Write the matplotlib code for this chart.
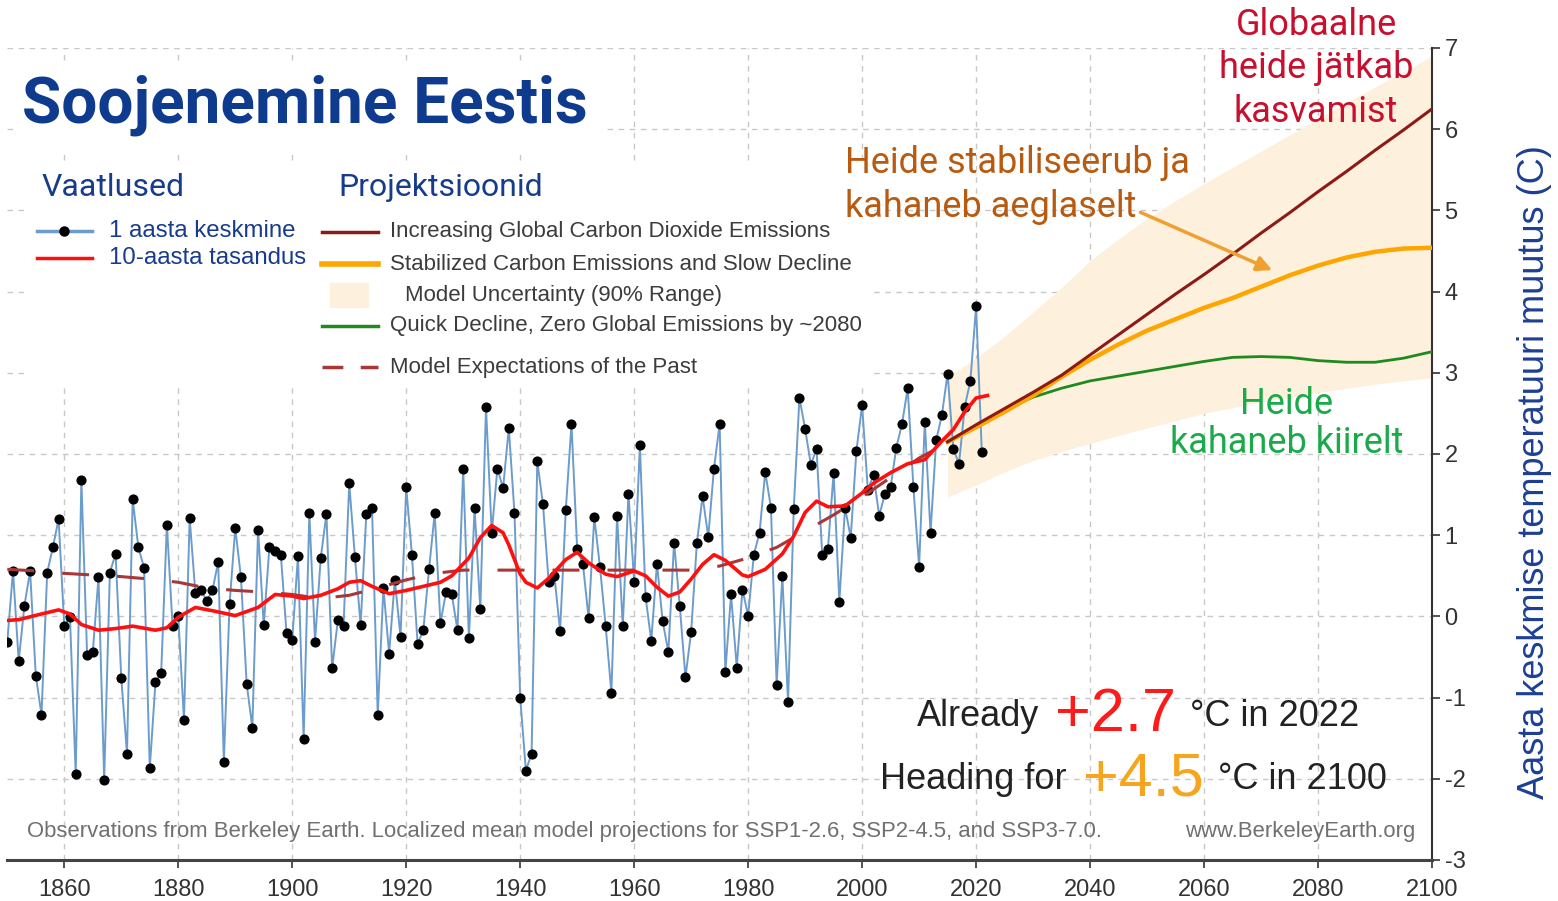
import matplotlib
matplotlib.use("Agg")
import matplotlib.pyplot as plt
from matplotlib.lines import Line2D
from matplotlib.patches import Rectangle

W, H = 1558, 901

# annual mean temperature change, Estonia (C), 1850-2021
obs_years = list(range(1850, 2022))
obs_temp = [
    -0.31, 0.56, -0.55, 0.13, 0.56, -0.73, -1.21, 0.54, 0.85, 1.20,
    -0.12, -0.01, -1.94, 1.68, -0.47, -0.44, 0.48, -2.01, 0.54, 0.77,
    -0.76, -1.69, 1.44, 0.85, 0.60, -1.87, -0.81, -0.70, 1.13, -0.12,
    0.00, -1.28, 1.21, 0.29, 0.32, 0.19, 0.32, 0.67, -1.79, 0.15,
    1.09, 0.48, -0.83, -1.37, 1.07, -0.11, 0.86, 0.81, 0.76, -0.21,
    -0.29, 0.74, -1.51, 1.27, -0.31, 0.72, 1.26, -0.64, -0.05, -0.12,
    1.64, 0.73, -0.11, 1.26, 1.34, -1.21, 0.35, -0.46, 0.45, -0.25,
    1.59, 0.76, -0.34, -0.17, 0.58, 1.27, -0.08, 0.30, 0.27, -0.17,
    1.82, -0.27, 1.33, 0.09, 2.58, 1.03, 1.82, 1.58, 2.32, 1.27,
    -1.00, -1.90, -1.69, 1.91, 1.38, 0.42, 0.50, -0.18, 1.31, 2.37,
    0.83, 0.65, -0.02, 1.22, 0.61, -0.12, -0.94, 1.24, -0.12, 1.51,
    0.42, 2.11, 0.24, -0.30, 0.65, -0.06, -0.44, 0.91, 0.13, -0.75,
    -0.19, 0.90, 1.48, 0.98, 1.82, 2.37, -0.68, 0.27, -0.63, 0.33,
    0.01, 0.76, 1.03, 1.78, 1.34, -0.84, 0.50, -1.06, 1.32, 2.69,
    2.31, 1.87, 2.06, 0.76, 0.83, 1.77, 0.18, 1.34, 0.97, 2.04,
    2.60, 1.56, 1.74, 1.24, 1.51, 1.59, 2.08, 2.37, 2.81, 1.59,
    0.61, 2.40, 1.03, 2.17, 2.48, 2.99, 2.06, 1.88, 2.58, 2.90,
    3.82, 2.02,
]

# 10-year smoothing
smooth_years = [1850, 1852, 1856, 1859, 1861, 1863, 1866, 1869, 1872, 1876,
                1878, 1880, 1883, 1886, 1890, 1894, 1897, 1900, 1902, 1905,
                1908, 1910, 1912, 1914, 1917, 1920, 1923, 1926, 1928, 1931,
                1933, 1935, 1937, 1938, 1940, 1941, 1943, 1945, 1948, 1950,
                1952, 1955, 1957, 1960, 1962, 1964, 1966, 1968, 1970, 1972,
                1974, 1976, 1979, 1980, 1983, 1986, 1988, 1990, 1992, 1994,
                1997, 2000, 2002, 2005, 2008, 2011, 2014, 2016, 2018, 2020,
                2022]
smooth_temp = [-0.05, -0.04, 0.03, 0.08, 0.03, -0.10, -0.17, -0.15, -0.12, -0.17,
               -0.14, -0.01, 0.11, 0.07, 0.01, 0.11, 0.27, 0.25, 0.22, 0.26,
               0.34, 0.42, 0.44, 0.37, 0.28, 0.32, 0.37, 0.42, 0.50, 0.72,
               0.97, 1.12, 1.03, 0.88, 0.52, 0.42, 0.35, 0.47, 0.70, 0.79,
               0.66, 0.52, 0.49, 0.56, 0.50, 0.36, 0.25, 0.30, 0.46, 0.64,
               0.76, 0.69, 0.51, 0.49, 0.58, 0.77, 0.99, 1.28, 1.42, 1.35,
               1.36, 1.52, 1.64, 1.77, 1.88, 1.93, 2.16, 2.30, 2.52, 2.69,
               2.72]

# model expectations of the past
past_years = [1850, 1855, 1860, 1865, 1870, 1875, 1880, 1885, 1890, 1895,
              1900, 1905, 1910, 1915, 1920, 1925, 1930, 1940, 1950, 1960,
              1970, 1975, 1980, 1985, 1990, 1995, 2000, 2005, 2010, 2014]
past_temp = [0.58, 0.56, 0.53, 0.51, 0.49, 0.46, 0.42, 0.35, 0.32, 0.30,
             0.27, 0.22, 0.26, 0.35, 0.45, 0.53, 0.57, 0.57, 0.57, 0.57,
             0.57, 0.62, 0.72, 0.85, 1.05, 1.25, 1.47, 1.71, 1.95, 2.10]

# projections
proj_years = list(range(2015, 2101, 5))
ssp370 = [2.15, 2.36, 2.56, 2.76, 2.97, 3.22, 3.47, 3.72, 3.97, 4.21,
          4.46, 4.72, 4.97, 5.23, 5.48, 5.74, 5.99, 6.25]
ssp245 = [2.15, 2.33, 2.52, 2.72, 2.95, 3.16, 3.35, 3.52, 3.66, 3.80,
          3.92, 4.06, 4.20, 4.32, 4.42, 4.49, 4.53, 4.54]
ssp126 = [2.15, 2.35, 2.55, 2.70, 2.81, 2.90, 2.96, 3.02, 3.08, 3.14,
          3.19, 3.20, 3.19, 3.15, 3.13, 3.13, 3.18, 3.26]
band_lo = [1.47, 1.62, 1.78, 1.92, 2.03, 2.13, 2.23, 2.32, 2.41, 2.50,
           2.57, 2.64, 2.70, 2.76, 2.81, 2.86, 2.90, 2.94]
band_hi = [2.95, 3.18, 3.45, 3.75, 4.05, 4.38, 4.65, 4.90, 5.12, 5.33,
           5.53, 5.73, 5.93, 6.13, 6.33, 6.52, 6.71, 6.90]

x_ticks = list(range(1860, 2101, 20))
y_ticks = list(range(-3, 8))

BLUE_TXT = "#173c8c"
GRAY_TXT = "#3c3c3c"
OBS_BLUE = "#6c9ccb"
C370 = "#8c1a16"
C245 = "#ffa500"
C126 = "#1f8a1f"
PAST = "#a83838"
BAND = "#fdf0dc"

plt.rcParams['font.family'] = ['Liberation Sans', 'DejaVu Sans']
plt.rcParams['axes.unicode_minus'] = False


def px(x, y):
    # figure pixel position -> figure fraction
    return x / W, 1 - y / H


fig = plt.figure(figsize=(W / 100, H / 100), dpi=100)
x0, y0 = px(7.3, 860)
x1, y1 = px(1432, 48)
ax = fig.add_axes([x0, y0, x1 - x0, y1 - y0])

ax.fill_between(proj_years, band_lo, band_hi, color=BAND, lw=0, zorder=1)
ax.plot(obs_years, obs_temp, color=OBS_BLUE, lw=1.4, marker='o', ms=6.3,
        mfc='black', mec='black', zorder=3)
lw_past = 2.2
ax.plot(past_years, past_temp, color=PAST, lw=lw_past, zorder=3.5,
        linestyle=(0, (19.4 / lw_past, 20.2 / lw_past)))
ax.plot(smooth_years, smooth_temp, color='#ff1010', lw=2.6, zorder=4)
ax.plot(proj_years, ssp126, color=C126, lw=2.0, zorder=5)
ax.plot(proj_years, ssp245, color=C245, lw=3.2, zorder=5)
ax.plot(proj_years, ssp370, color=C370, lw=2.2, zorder=5)

ax.set_xlim(1850, 2100)
ax.set_ylim(-3, 7)
ax.set_xticks(x_ticks)
ax.set_yticks(y_ticks)
ax.yaxis.tick_right()
ax.grid(True, color='#c8c8c8', linestyle=(0, (4, 4)), lw=1.0)
ax.set_axisbelow(True)
for s in ['left', 'top']:
    ax.spines[s].set_visible(False)
ax.spines['right'].set_color('#333333')
ax.spines['right'].set_linewidth(1.5)
ax.spines['bottom'].set_color('#444444')
ax.spines['bottom'].set_linewidth(2.2)
ax.tick_params(axis='both', direction='out', length=6, width=1.2,
               colors='#333333', labelsize=17)
ax.tick_params(axis='y', pad=3)
ax.tick_params(axis='x', pad=8)

# arrow to the middle scenario
ax.annotate('', xy=(2072.4, 4.25), xytext=(2048.4, 4.99),
            arrowprops=dict(arrowstyle='-|>,head_length=0.9,head_width=0.45',
                            color='#f0a030', lw=2.5), zorder=6)

# white areas behind title and legend
fig.patches.append(Rectangle(px(25, 385), 845 / W, 220 / H,
                             transform=fig.transFigure, color='white', zorder=1))
fig.patches.append(Rectangle(px(15, 152), 590 / W, 90 / H,
                             transform=fig.transFigure, color='white', zorder=1))

fig.text(*px(22, 105), 'Soojenemine Eestis', family='Roboto', weight='bold',
         fontsize=46, color='#0e3b8e', va='center', zorder=3)

# legends
fig.text(*px(42, 188), 'Vaatlused', family='Roboto', fontsize=23,
         color=BLUE_TXT, va='center', zorder=3)
fig.text(*px(338, 188), 'Projektsioonid', family='Roboto', fontsize=23,
         color=BLUE_TXT, va='center', zorder=3)


def handle(xa, xb, y, **kw):
    (fa, fy), (fb, _) = px(xa, y), px(xb, y)
    fig.add_artist(Line2D([fa, fb], [fy, fy], transform=fig.transFigure,
                          zorder=3, **kw))


handle(37, 92, 231, color=OBS_BLUE, lw=2.5)
fig.add_artist(Line2D([px(64, 231)[0]], [px(64, 231)[1]], transform=fig.transFigure,
                      marker='o', ms=6.5, color='black', zorder=4))
handle(37, 92, 258, color='#ff1010', lw=2.5)
fig.text(*px(109, 231), '1 aasta keskmine', fontsize=17.3, color=BLUE_TXT,
         va='center', zorder=3)
fig.text(*px(109, 258), '10-aasta tasandus', fontsize=17.3, color=BLUE_TXT,
         va='center', zorder=3)

handle(322, 378, 232, color=C370, lw=2.5)
handle(322, 378, 264, color=C245, lw=4)
fig.patches.append(Rectangle(px(330, 307), 38 / W, 24 / H,
                             transform=fig.transFigure, color=BAND, zorder=3))
handle(322, 378, 326, color=C126, lw=2.5)
handle(322, 378, 367, color=PAST, lw=2.5, linestyle=(0, (6, 5)))
proj_labels = [(232, 390, 'Increasing Global Carbon Dioxide Emissions'),
               (264, 390, 'Stabilized Carbon Emissions and Slow Decline'),
               (295, 405, 'Model Uncertainty (90% Range)'),
               (326, 390, 'Quick Decline, Zero Global Emissions by ~2080'),
               (367, 390, 'Model Expectations of the Past')]
for y, x, s in proj_labels:
    fig.text(*px(x, y), s, fontsize=16, color=GRAY_TXT, va='center', zorder=3)

# scenario annotations
for y, s in [(25, 'Globaalne'), (68, 'heide jätkab'), (112, 'kasvamist')]:
    fig.text(*px(1316, y), s, family='Roboto', fontsize=26, color='#c8102e',
             ha='center', va='center')
for y, s in [(163, 'Heide stabiliseerub ja'), (207, 'kahaneb aeglaselt')]:
    fig.text(*px(845, y), s, family='Roboto', fontsize=26, color='#b85a10',
             va='center')
for y, s in [(404, 'Heide'), (443, 'kahaneb kiirelt')]:
    fig.text(*px(1287, y), s, family='Roboto', fontsize=26, color='#1aaa4a',
             ha='center', va='center')

# headline numbers
fig.text(*px(917, 726), 'Already', fontsize=26, color='#222222', va='baseline')
fig.text(*px(1055, 731), '+2.7', fontsize=44, color='#ff1a1a', va='baseline')
fig.text(*px(1190, 726), '°C in 2022', fontsize=26, color='#222222', va='baseline')
fig.text(*px(880, 789), 'Heading for', fontsize=26, color='#222222', va='baseline')
fig.text(*px(1083, 795), '+4.5', fontsize=44, color='#f7a51f', va='baseline')
fig.text(*px(1218, 789), '°C in 2100', fontsize=26, color='#222222', va='baseline')

fig.text(*px(27, 832), 'Observations from Berkeley Earth. Localized mean model '
         'projections for SSP1-2.6, SSP2-4.5, and SSP3-7.0.',
         fontsize=15.9, color='#707070', va='center')
fig.text(*px(1415, 832), 'www.BerkeleyEarth.org', fontsize=15.9, color='#707070',
         ha='right', va='center')

fig.text(*px(1535, 472), 'Aasta keskmise temperatuuri muutus (C)', fontsize=26,
         color='#1c3f94', rotation=90, ha='center', va='center')

fig.savefig('out.png', dpi=100)
